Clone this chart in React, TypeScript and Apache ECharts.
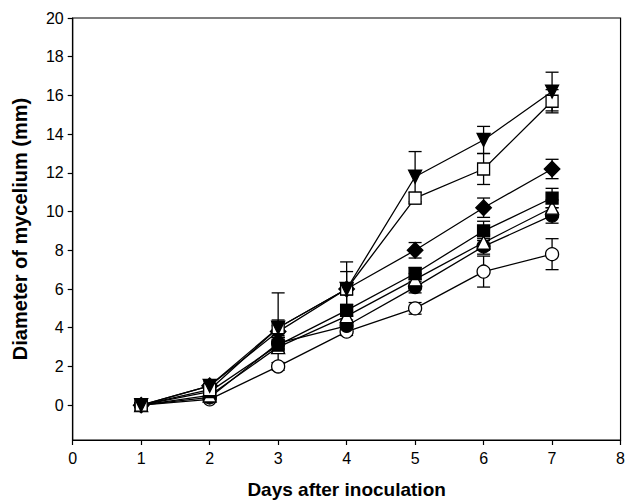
import React, { useEffect, useRef } from "react";
import * as echarts from "echarts";

const days = [1, 2, 3, 4, 5, 6, 7];
const yTicks = [0, 2, 4, 6, 8, 10, 12, 14, 16, 18, 20];

const triDownVals = [0, 1.0, 4.0, 6.0, 11.8, 13.7, 16.2];
const triDownErr = [0.1, 0.2, 1.8, 1.4, 1.3, 0.7, 1.0];
const openSqVals = [0, 0.8, 4.0, 6.0, 10.7, 12.2, 15.7];
const openSqErr = [0.1, 0.1, 0.4, 0.9, 0.3, 0.8, 0.6];
const diamondVals = [0, 1.0, 3.8, 6.0, 8.0, 10.2, 12.2];
const diamondErr = [0.1, 0.1, 0.3, 0.3, 0.4, 0.5, 0.5];
const fillSqVals = [0, 0.7, 3.1, 4.9, 6.8, 9.0, 10.7];
const fillSqErr = [0.1, 0.1, 0.4, 0.3, 0.3, 0.5, 0.5];
const openTriVals = [0, 0.5, 3.0, 4.6, 6.5, 8.4, 10.2];
const openTriErr = [0.1, 0.1, 0.3, 0.3, 0.3, 0.4, 0.4];
const fillCircVals = [0, 0.4, 3.2, 4.1, 6.1, 8.2, 9.8];
const fillCircErr = [0.1, 0.1, 0.3, 0.3, 0.3, 0.4, 0.4];
const openCircVals = [0, 0.3, 2.0, 3.8, 5.0, 6.9, 7.8];
const openCircErr = [0.1, 0.1, 0.2, 0.2, 0.3, 0.8, 0.8];

type S = { name: string; vals: number[]; err: number[]; symbol: string; rotate: number; size: number; fill: string };

const seriesDefs: S[] = [
  { name: "openCirc", vals: openCircVals, err: openCircErr, symbol: "circle", rotate: 0, size: 13, fill: "#fff" },
  { name: "fillCirc", vals: fillCircVals, err: fillCircErr, symbol: "circle", rotate: 0, size: 13, fill: "#000" },
  { name: "openTri", vals: openTriVals, err: openTriErr, symbol: "triangle", rotate: 0, size: 13, fill: "#fff" },
  { name: "fillSq", vals: fillSqVals, err: fillSqErr, symbol: "rect", rotate: 0, size: 12, fill: "#000" },
  { name: "diamond", vals: diamondVals, err: diamondErr, symbol: "rect", rotate: 45, size: 11, fill: "#000" },
  { name: "openSq", vals: openSqVals, err: openSqErr, symbol: "rect", rotate: 0, size: 12, fill: "#fff" },
  { name: "triDown", vals: triDownVals, err: triDownErr, symbol: "triangle", rotate: 180, size: 13, fill: "#000" },
];

export default function App() {
  const ref = useRef<HTMLDivElement>(null);
  useEffect(() => {
    if (!ref.current) return;
    const chart = echarts.init(ref.current, undefined, { renderer: "svg" });
    const font = "'Liberation Sans', Arial, sans-serif";
    const series: any[] = [];
    seriesDefs.forEach((s) => {
      series.push({
        type: "custom",
        name: s.name + "-err",
        z: 1,
        data: days.map((d, i) => [d, s.vals[i], s.err[i]]),
        renderItem: (params: any, api: any) => {
          const x = api.value(0);
          const y = api.value(1);
          const e = api.value(2);
          const top = api.coord([x, y + e]);
          const bot = api.coord([x, y - e]);
          const cw = 6.5;
          const st = { stroke: "#000", lineWidth: 1.3 };
          return {
            type: "group",
            children: [
              { type: "line", shape: { x1: top[0], y1: top[1], x2: bot[0], y2: bot[1] }, style: st },
              { type: "line", shape: { x1: top[0] - cw, y1: top[1], x2: top[0] + cw, y2: top[1] }, style: st },
              { type: "line", shape: { x1: bot[0] - cw, y1: bot[1], x2: bot[0] + cw, y2: bot[1] }, style: st },
            ],
          };
        },
      });
      series.push({
        type: "line",
        name: s.name,
        z: 2,
        data: days.map((d, i) => [d, s.vals[i]]),
        symbol: s.symbol,
        symbolSize: s.size,
        symbolRotate: s.rotate,
        showAllSymbol: true,
        lineStyle: { color: "#000", width: 1.3 },
        itemStyle: { color: s.fill, borderColor: "#000", borderWidth: 1.3 },
        emphasis: { disabled: true },
      });
    });
    chart.setOption({
      animation: false,
      grid: { left: 72.7, right: 4.2, top: 18, bottom: 62.3, show: true, borderColor: "#000", borderWidth: 1.2, backgroundColor: "transparent" },
      xAxis: {
        type: "value",
        min: 0,
        max: 8,
        interval: 1,
        name: "Days after inoculation",
        nameLocation: "middle",
        nameGap: 40,
        nameTextStyle: { fontFamily: font, fontWeight: "bold", fontSize: 19, color: "#000" },
        axisLine: { onZero: false, lineStyle: { color: "#000", width: 1.2 } },
        axisTick: { length: 5, lineStyle: { color: "#000", width: 1.2 } },
        axisLabel: { fontFamily: font, fontSize: 16, color: "#000", margin: 10 },
        splitLine: { show: false },
      },
      yAxis: {
        type: "value",
        min: -1.8,
        max: 20,
        name: "Diameter of mycelium (mm)",
        nameLocation: "middle",
        nameGap: 43,
        nameTextStyle: { fontFamily: font, fontWeight: "bold", fontSize: 20, color: "#000" },
        axisLine: { onZero: false, lineStyle: { color: "#000", width: 1.2 } },
        axisTick: { length: 5, lineStyle: { color: "#000", width: 1.2 }, customValues: yTicks },
        axisLabel: { fontFamily: font, fontSize: 16, color: "#000", margin: 9, customValues: yTicks },
        splitLine: { show: false },
      },
      series,
    });
    return () => chart.dispose();
  }, []);
  return <div ref={ref} style={{ width: 628, height: 504, position: "absolute", left: 0, top: 0, background: "#fff" }} />;
}
